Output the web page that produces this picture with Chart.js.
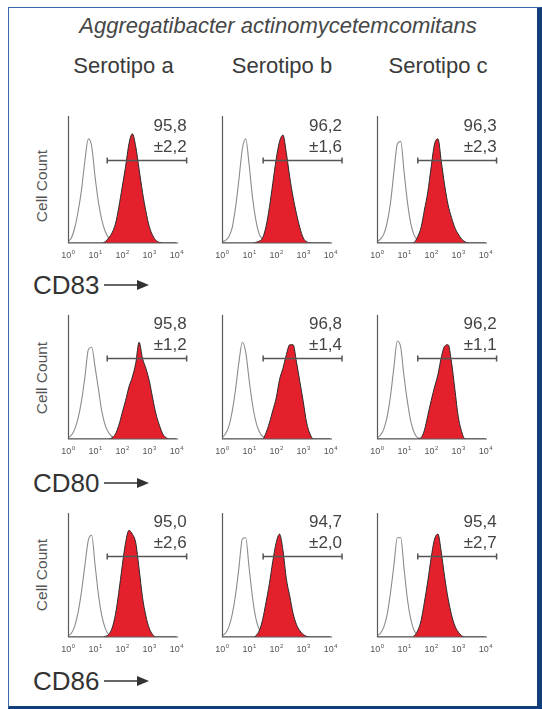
<!DOCTYPE html>
<html><head><meta charset="utf-8">
<script src="https://cdn.jsdelivr.net/npm/chart.js@4.4.0/dist/chart.umd.min.js"></script>
<style>
html,body{margin:0;padding:0;background:#fff;}
body{width:542px;height:709px;position:relative;overflow:hidden;font-family:"Liberation Sans",Arial,sans-serif;}
.frame{position:absolute;left:8px;top:7px;width:534px;height:702px;box-sizing:border-box;border-left:1.5px solid #3a69a8;border-top:1.5px solid #3a69a8;border-right:5px solid #123f7c;border-bottom:3px solid #123f7c;}
.t{position:absolute;transform:translate(-50%,-50%);white-space:nowrap;color:#3a3a3a;}
.title{font-style:italic;font-size:22px;color:#474747;}
.sero{font-size:22px;color:#3a3a3a;}
.cc{font-size:15.5px;color:#555;transform:translate(-50%,-50%) rotate(-90deg);}
.cd{position:absolute;font-size:26px;color:#333;white-space:nowrap;transform:translateY(-50%);}
canvas{position:absolute;}
svg{position:absolute;}
</style>
</head><body>
<div class="frame"></div>
<div id="root"></div>
<script>
// ---- data ----
const bins = [1, 1.334, 1.778, 2.371, 3.162, 4.217, 5.623, 7.499, 10, 13.34, 17.78, 23.71, 31.62, 42.17, 56.23, 74.99, 100, 133.4, 177.8, 237.1, 316.2, 421.7, 562.3, 749.9, 1000, 1334, 1778, 2371, 3162, 4217, 5623, 7499, 10000];
const tickExponents = [0, 1, 2, 3, 4];
const serotypes = ["Serotipo a", "Serotipo b", "Serotipo c"];
const markers = ["CD83", "CD80", "CD86"];

const control_CD83_a = [1,4,12,25,42,65,82,76,52,32,18,9,4,2,1,0.5,0,0,0,0,0,0,0,0,0,0,0,0,0,0,0,0,0];
const control_CD83_b = [1,2,5,12,28,50,74,82,62,36,18,7,3,1.5,1,0.7,0.5,0.3,0,0,0,0,0,0,0,0,0,0,0,0,0,0,0];
const control_CD83_c = [1,3,7,16,32,56,78,80,56,32,15,6,2,1,0.5,0,0,0,0,0,0,0,0,0,0,0,0,0,0,0,0,0,0];
const stained_CD83_a = [0,0,0,0,0,0,0,0,0,0,0,1,4,8,15,28,44,60,78,86,76,58,40,25,13,6,2,0.5,0,0,0,0,0];
const stained_CD83_b = [0,0,0,0,0,0,0,0,0,0,0.5,1.5,4,13,28,47,66,80,85,71,52,36,23,12,4,1,0,0,0,0,0,0,0];
const stained_CD83_c = [0,0,0,0,0,0,0,0,0,0,0,0.5,5,12,26,40,60,78,82,64,45,30,20,12,7,3,1,0,0,0,0,0,0];

const control_CD80_a = [1,3,8,17,31,50,72,74,58,40,22,11,5,2,0.5,0,0,0,0,0,0,0,0,0,0,0,0,0,0,0,0,0,0];
const control_CD80_b = [1,4,10,22,40,62,78,70,48,28,14,6,2,1,0.5,0,0,0,0,0,0,0,0,0,0,0,0,0,0,0,0,0,0];
const control_CD80_c = [1,3,8,18,35,58,79,74,50,30,14,5,1,0.5,0,0,0,0,0,0,0,0,0,0,0,0,0,0,0,0,0,0,0];
const stained_CD80_a = [0,0,0,0,0,0,0,0,0,0,0,0,0,1,4,11,21,31,42,50,61,78,65,57,47,33,20,11,4,1,0,0,0];
const stained_CD80_b = [0,0,0,0,0,0,0,0,0,0,0,0,0,5,13,23,33,48,57,68,76,76,62,46,30,13,4,0,0,0,0,0,0];
const stained_CD80_c = [0,0,0,0,0,0,0,0,0,0,0,0,0,1,7,19,31,42,52,66,75,76,62,40,18,6,0,0,0,0,0,0,0];

const control_CD86_a = [1,3,9,20,37,58,78,82,58,34,17,7,2,1,0.5,0,0,0,0,0,0,0,0,0,0,0,0,0,0,0,0,0,0];
const control_CD86_b = [1,3,8,18,34,56,79,80,56,32,15,6,2,1,0.5,0,0,0,0,0,0,0,0,0,0,0,0,0,0,0,0,0,0];
const control_CD86_c = [1,3,8,18,36,58,80,80,55,30,14,5,2,1,0,0,0,0,0,0,0,0,0,0,0,0,0,0,0,0,0,0,0];
const stained_CD86_a = [0,0,0,0,0,0,0,0,0,0,0,0.5,2,7,18,36,57,76,86,83,76,55,32,17,7,2,0,0,0,0,0,0,0];
const stained_CD86_b = [0,0,0,0,0,0,0,0,0,0,1,5,14,28,43,61,76,83,70,47,33,19,10,5,2,0.5,0,0,0,0,0,0,0];
const stained_CD86_c = [0,0,0,0,0,0,0,0,0,0,0,1,5,13,28,45,64,79,83,68,48,31,18,9,4,1,0,0,0,0,0,0,0];

const pct_CD83 = ["95,8", "96,2", "96,3"];
const sd_CD83  = ["±2,2", "±1,6", "±2,3"];
const pct_CD80 = ["95,8", "96,8", "96,2"];
const sd_CD80  = ["±1,2", "±1,4", "±1,1"];
const pct_CD86 = ["95,0", "94,7", "95,4"];
const sd_CD86  = ["±2,6", "±2,0", "±2,7"];

const gateLow  = [28, 33, 32];
const gateHigh = [24000, 27000, 26000];
const gateLevel = 65;

// ---- layout ----
const colAxisX = [67.5, 221.7, 377.3];
const rowTop = [116, 315, 513];
const rowH = [127, 124, 124];
const plotW = 110;
const PAD = {left: 12, right: 34, top: 22, bottom: 22};

const root = document.getElementById('root');
function addText(cls, txt, x, y) {
  const d = document.createElement('div');
  d.className = 't ' + cls; d.textContent = txt;
  d.style.left = x + 'px'; d.style.top = y + 'px';
  root.appendChild(d);
}
addText('title', 'Aggregatibacter actinomycetemcomitans', 278, 26);
const seroX = [123.5, 282, 438];
serotypes.forEach((s, i) => addText('sero', s, seroX[i], 66));
const ccY = [186, 377.5, 575];
ccY.forEach(y => addText('cc', 'Cell Count', 41.7, y));
const cdY = [285, 483, 681];
markers.forEach((m, i) => {
  const d = document.createElement('div');
  d.className = 'cd'; d.textContent = m;
  d.style.left = '33px'; d.style.top = cdY[i] + 'px';
  root.appendChild(d);
  const svg = document.createElementNS('http://www.w3.org/2000/svg', 'svg');
  svg.setAttribute('width', '50'); svg.setAttribute('height', '14');
  svg.style.left = '103px'; svg.style.top = (cdY[i] - 7) + 'px';
  svg.innerHTML = '<line x1="1" y1="7" x2="36" y2="7" stroke="#333" stroke-width="1.6"/><polygon points="34,2 46,7 34,12" fill="#333"/>';
  root.appendChild(svg);
});

const flowDeco = {
  id: 'flowDeco',
  afterDatasetsDraw(chart, args, o) {
    const {ctx, chartArea: a, scales: {x, y}} = chart;
    ctx.save();
    ctx.strokeStyle = '#5a5a5a'; ctx.lineWidth = 1.2;
    ctx.beginPath();
    ctx.moveTo(a.left + 0.5, a.top); ctx.lineTo(a.left + 0.5, a.bottom); ctx.lineTo(a.right, a.bottom);
    ctx.stroke();
    ctx.fillStyle = '#555';
    ctx.textAlign = 'left'; ctx.textBaseline = 'alphabetic';
    tickExponents.forEach(k => {
      const px = x.getPixelForValue(Math.pow(10, k));
      ctx.font = '9px "Liberation Sans"'; const w1 = ctx.measureText('10').width;
      ctx.font = '6px "Liberation Sans"'; const w2 = ctx.measureText(String(k)).width;
      const sx = px - (w1 + w2) / 2;
      ctx.font = '9px "Liberation Sans"'; ctx.fillText('10', sx, a.bottom + 15);
      ctx.font = '6px "Liberation Sans"'; ctx.fillText(String(k), sx + w1 + 0.5, a.bottom + 10.5);
    });
    const gy = y.getPixelForValue(o.level);
    const gl = x.getPixelForValue(o.lo), gh = x.getPixelForValue(o.hi);
    ctx.strokeStyle = '#555'; ctx.lineWidth = 1.5;
    ctx.beginPath();
    ctx.moveTo(gl, gy); ctx.lineTo(gh, gy);
    ctx.moveTo(gl, gy - 3); ctx.lineTo(gl, gy + 3);
    ctx.moveTo(gh, gy - 3); ctx.lineTo(gh, gy + 3);
    ctx.stroke();
    ctx.font = '17px "Liberation Sans"'; ctx.textAlign = 'right'; ctx.textBaseline = 'middle'; ctx.fillStyle = '#444';
    ctx.fillText(o.pct, gh, gy - 34);
    ctx.fillText(o.sd, gh, gy - 13);
    ctx.restore();
  }
};

const panels = [
  [control_CD83_a, control_CD83_b, control_CD83_c, stained_CD83_a, stained_CD83_b, stained_CD83_c, pct_CD83, sd_CD83],
  [control_CD80_a, control_CD80_b, control_CD80_c, stained_CD80_a, stained_CD80_b, stained_CD80_c, pct_CD80, sd_CD80],
  [control_CD86_a, control_CD86_b, control_CD86_c, stained_CD86_a, stained_CD86_b, stained_CD86_c, pct_CD86, sd_CD86]
];
const toXY = vals => bins.map((b, i) => ({x: b, y: vals[i]}));

panels.forEach((p, r) => {
  for (let c = 0; c < 3; c++) {
    const cv = document.createElement('canvas');
    const W = PAD.left + plotW + PAD.right, H = PAD.top + rowH[r] + PAD.bottom;
    cv.width = W; cv.height = H;
    cv.style.width = W + 'px'; cv.style.height = H + 'px';
    cv.style.left = (colAxisX[c] - PAD.left) + 'px';
    cv.style.top = (rowTop[r] - PAD.top) + 'px';
    root.appendChild(cv);
    new Chart(cv, {
      type: 'line',
      data: {
        datasets: [
          {data: toXY(p[3 + c]), borderColor: '#2a2a2a', borderWidth: 1, backgroundColor: '#e3202b',
           fill: 'origin', pointRadius: 0, cubicInterpolationMode: 'monotone'},
          {data: toXY(p[c]), borderColor: '#8c8c8c', borderWidth: 1.1, fill: false,
           pointRadius: 0, cubicInterpolationMode: 'monotone'}
        ]
      },
      options: {
        responsive: false, animation: false, events: [],
        layout: {padding: PAD},
        scales: {
          x: {type: 'logarithmic', min: 1, max: 11500, display: false},
          y: {type: 'linear', min: 0, max: 100, display: false}
        },
        plugins: {
          legend: {display: false}, tooltip: {enabled: false},
          flowDeco: {lo: gateLow[c], hi: gateHigh[c], level: gateLevel, pct: p[6][c], sd: p[7][c]}
        }
      },
      plugins: [flowDeco]
    });
  }
});
</script>
</body></html>
